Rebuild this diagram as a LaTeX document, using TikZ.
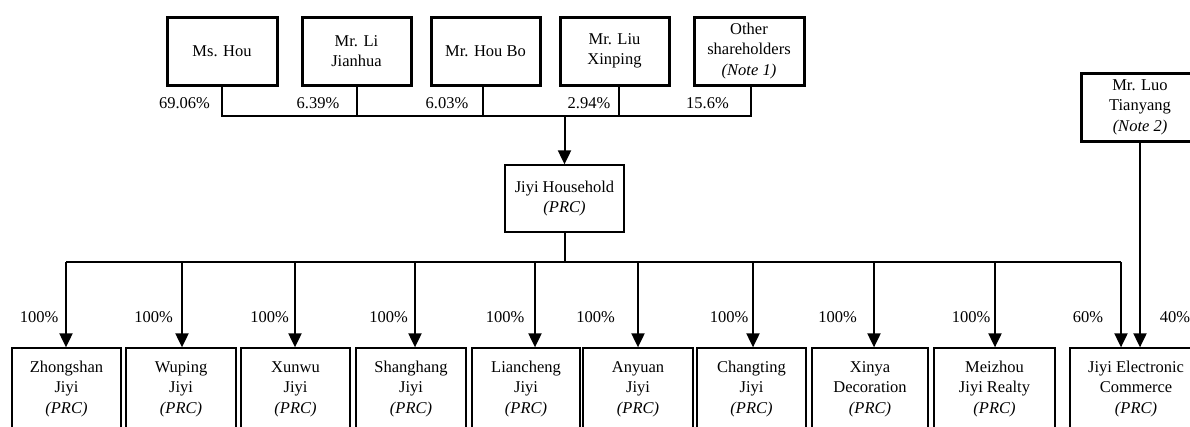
\documentclass[tikz,border=0pt]{standalone}
\usepackage{fontspec}
\setmainfont{Liberation Serif}
\usetikzlibrary{arrows.meta}
\begin{document}
\begin{tikzpicture}[x=1pt,y=-1pt,
  every node/.style={font=\fontsize{16.5}{20.5}\selectfont, inner sep=0pt, align=center},
  topbox/.style={draw, line width=3pt, minimum height=68pt},
  subbox/.style={draw, line width=1.3pt, minimum height=82pt},
  conn/.style={line width=2pt},
  arr/.style={line width=2pt, -{Triangle[width=13pt,length=14pt]}},
  pct/.style={}]
\useasboundingbox (0,0) rectangle (1190,426);
\clip (0,0) rectangle (1190,426);

% top shareholders
\node[topbox, minimum width=110pt] (mshou) at (222,51) {Ms. Hou};
\node[topbox, minimum width=109pt] (li) at (356.5,51) {Mr. Li\\Jianhua};
\node[topbox, minimum width=109pt] (houbo) at (485.5,51) {Mr. Hou Bo};
\node[topbox, minimum width=109pt] (liu) at (614.5,51) {Mr. Liu\\Xinping};
\node[topbox, minimum width=110pt] (other) at (749,51) {Other\\shareholders\\\textit{(Note 1)}};
\node[topbox, minimum width=118pt] (luo) at (1140,107) {Mr. Luo\\Tianyang\\\textit{(Note 2)}};

% middle
\node[subbox, minimum width=119pt, minimum height=67pt] (household) at (564.5,198.5) {Jiyi Household\\\textit{(PRC)}};

% subsidiaries
\node[subbox, minimum width=109pt] (zhong) at (66.5,389) {Zhongshan\\Jiyi\\\textit{(PRC)}};
\node[subbox, minimum width=110pt] (wuping) at (181,389) {Wuping\\Jiyi\\\textit{(PRC)}};
\node[subbox, minimum width=109pt] (xunwu) at (295.5,389) {Xunwu\\Jiyi\\\textit{(PRC)}};
\node[subbox, minimum width=110pt] (shang) at (411,389) {Shanghang\\Jiyi\\\textit{(PRC)}};
\node[subbox, minimum width=108pt] (lian) at (526,389) {Liancheng\\Jiyi\\\textit{(PRC)}};
\node[subbox, minimum width=110pt] (anyuan) at (638,389) {Anyuan\\Jiyi\\\textit{(PRC)}};
\node[subbox, minimum width=109pt] (chang) at (751.5,389) {Changting\\Jiyi\\\textit{(PRC)}};
\node[subbox, minimum width=116pt] (xinya) at (870,389) {Xinya\\Decoration\\\textit{(PRC)}};
\node[subbox, minimum width=121pt] (meizhou) at (994.5,389) {Meizhou\\Jiyi Realty\\\textit{(PRC)}};
\node[subbox, minimum width=132pt] (ec) at (1136,389) {Jiyi Electronic\\Commerce\\\textit{(PRC)}};

\coordinate (topbus) at (0,116);
\coordinate (botbus) at (0,262);

% top connectors
\draw[conn] (mshou.south) -- (mshou.south |- topbus) -- ([xshift=2pt]other.south |- topbus) -- ([xshift=2pt]other.south);
\draw[conn] (li.south) -- (li.south |- topbus);
\draw[conn] ([xshift=-2.5pt]houbo.south) -- ([xshift=-2.5pt]houbo.south |- topbus);
\draw[conn] ([xshift=4.5pt]liu.south) -- ([xshift=4.5pt]liu.south |- topbus);
\draw[arr] (household.north |- topbus) -- (household.north);

% bottom bus
\draw[conn] (household.south) -- (household.south |- botbus);
\draw[conn] ([xshift=-0.5pt]zhong.north |- botbus) -- ([xshift=-15pt]ec.north |- botbus);
\draw[arr] ([xshift=-0.5pt]zhong.north |- botbus) -- ([xshift=-0.5pt]zhong.north);
\draw[arr] ([xshift=1pt]wuping.north |- botbus) -- ([xshift=1pt]wuping.north);
\draw[arr] ([xshift=-0.5pt]xunwu.north |- botbus) -- ([xshift=-0.5pt]xunwu.north);
\draw[arr] ([xshift=4pt]shang.north |- botbus) -- ([xshift=4pt]shang.north);
\draw[arr] ([xshift=9pt]lian.north |- botbus) -- ([xshift=9pt]lian.north);
\draw[arr] (anyuan.north |- botbus) -- (anyuan.north);
\draw[arr] ([xshift=1.5pt]chang.north |- botbus) -- ([xshift=1.5pt]chang.north);
\draw[arr] ([xshift=4pt]xinya.north |- botbus) -- ([xshift=4pt]xinya.north);
\draw[arr] ([xshift=0.5pt]meizhou.north |- botbus) -- ([xshift=0.5pt]meizhou.north);
\draw[arr] ([xshift=-15pt]ec.north |- botbus) -- ([xshift=-15pt]ec.north);
\draw[arr] (luo.south) -- (luo.south |- ec.north);

% percentages top
\node[pct] (p1) at (184.5,103) {69.06\%};
\node[pct] (p2) at (318,103) {6.39\%};
\node[pct] (p3) at (447,103) {6.03\%};
\node[pct] (p4) at (589,103) {2.94\%};
\node[pct] (p5) at (707.5,103) {15.6\%};

% percentages bottom
\node[pct] (q1) at (39,317) {100\%};
\node[pct] (q2) at (153.5,317) {100\%};
\node[pct] (q3) at (269.5,317) {100\%};
\node[pct] (q4) at (388.5,317) {100\%};
\node[pct] (q5) at (505,317) {100\%};
\node[pct] (q6) at (595.5,317) {100\%};
\node[pct] (q7) at (729,317) {100\%};
\node[pct] (q8) at (837.5,317) {100\%};
\node[pct] (q9) at (971,317) {100\%};
\node[pct] (q10) at (1088,317) {60\%};
\node[pct] (q11) at (1175,317) {40\%};
\end{tikzpicture}
\end{document}
